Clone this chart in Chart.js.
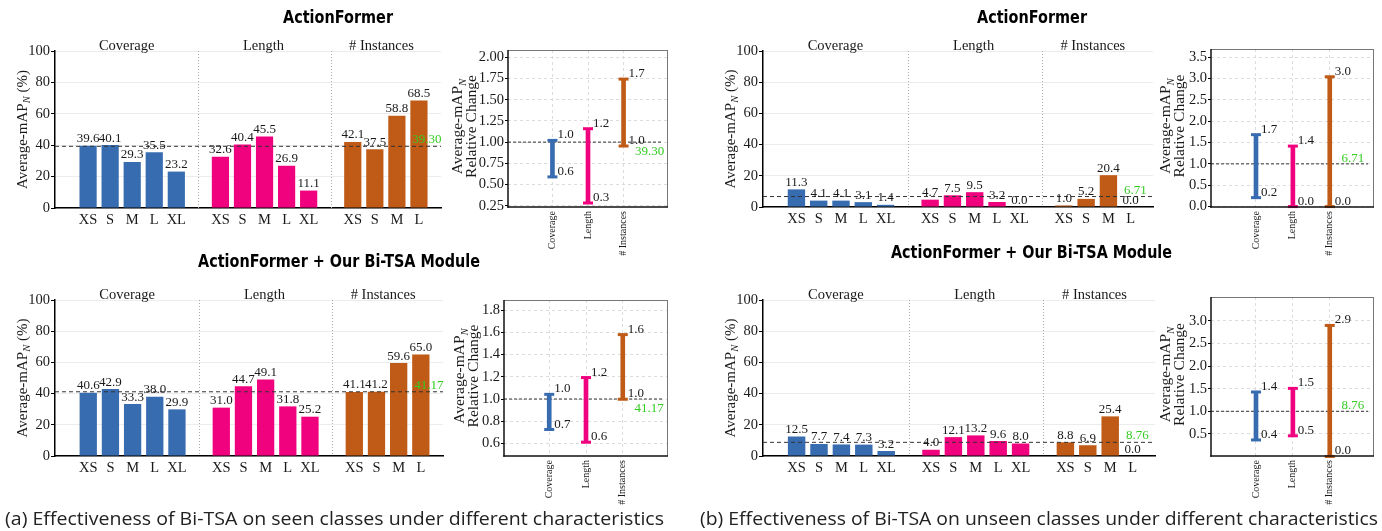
<!DOCTYPE html>
<html><head><meta charset="utf-8">
<script src="https://cdn.jsdelivr.net/npm/chart.js@4.4.1/dist/chart.umd.min.js"></script>
<style>
html,body{margin:0;padding:0;background:#fff;}
#stage{position:relative;width:1382px;height:531px;overflow:hidden;background:#fff;}
#stage canvas{position:absolute;left:0;top:0;}
</style></head><body><div id="stage"></div>
<script>
// ---------------- data ----------------
const sizesCoverage = ['XS','S','M','L','XL'];
const sizesLength = ['XS','S','M','L','XL'];
const sizesInstances = ['XS','S','M','L'];
const groupNames = ['Coverage','Length','# Instances'];
const barYTicks = [0,20,40,60,80,100];

// (a) seen classes, ActionFormer
const seenBaseCoverage = [39.6,40.1,29.3,35.5,23.2];
const seenBaseLength = [32.6,40.4,45.5,26.9,11.1];
const seenBaseInstances = [42.1,37.5,58.8,68.5];
const seenBaseAvg = 39.30;
const seenBaseRelMin = [0.590,0.282,0.954];
const seenBaseRelMax = [1.020,1.158,1.743];
const seenBaseRelTicks = [0.25,0.50,0.75,1.00,1.25,1.50,1.75,2.00];

// (a) seen classes, ActionFormer + Bi-TSA
const seenOursCoverage = [40.6,42.9,33.3,38.0,29.9];
const seenOursLength = [31.0,44.7,49.1,31.8,25.2];
const seenOursInstances = [41.1,41.2,59.6,65.0];
const seenOursAvg = 41.17;
const seenOursRelMin = [0.726,0.612,0.998];
const seenOursRelMax = [1.042,1.193,1.579];
const seenOursRelTicks = [0.6,0.8,1.0,1.2,1.4,1.6,1.8];

// (b) unseen classes, ActionFormer
const unseenBaseCoverage = [11.3,4.1,4.1,3.1,1.4];
const unseenBaseLength = [4.7,7.5,9.5,3.2,0.0];
const unseenBaseInstances = [1.0,5.2,20.4,0.0];
const unseenBaseAvg = 6.71;
const unseenBaseRelMin = [0.209,0.000,0.000];
const unseenBaseRelMax = [1.684,1.416,3.040];
const unseenBaseRelTicks = [0.0,0.5,1.0,1.5,2.0,2.5,3.0,3.5];

// (b) unseen classes, ActionFormer + Bi-TSA
const unseenOursCoverage = [12.5,7.7,7.4,7.3,3.2];
const unseenOursLength = [4.0,12.1,13.2,9.6,8.0];
const unseenOursInstances = [8.8,6.9,25.4,0.0];
const unseenOursAvg = 8.76;
const unseenOursRelMin = [0.365,0.457,0.000];
const unseenOursRelMax = [1.427,1.507,2.900];
const unseenOursRelTicks = [0.5,1.0,1.5,2.0,2.5,3.0];

const relBaseline = 1.0;

// ---------------- style ----------------
const GROUP_COLORS = ['#386cb0','#f0027f','#bf5b17'];
const SERIF = "'Liberation Serif','Times New Roman',serif";
const GREEN = '#33cc22';
const TXT = '#1a1a1a';
const W_AX = 50, PAGE_W = 1382, PAGE_H = 531;
const H_BAR = 30, H_RANGE = 62;
const GROUP_START = [0, 6, 12];
const SEPARATORS = [5, 11];
const GROUP_TITLE_POS = [1.75, 7.95, 13.3];
const AVG_LABEL_POS = 14.7;
const stage = document.getElementById('stage');

function makeCanvas(){
  const c = document.createElement('canvas');
  c.width = PAGE_W; c.height = PAGE_H;
  c.style.width = PAGE_W+'px'; c.style.height = PAGE_H+'px';
  stage.appendChild(c);
  return c;
}
function paddingFor(b, hAx){
  return {left:b.l-W_AX, top:b.t, right:PAGE_W-b.r, bottom:PAGE_H-b.b-hAx};
}
function seg(ctx,x1,y1,x2,y2){ctx.beginPath();ctx.moveTo(x1,y1);ctx.lineTo(x2,y2);ctx.stroke();}
function drawRich(ctx, cx, cy, parts, size, rotate){
  ctx.save();
  ctx.translate(cx, cy);
  if (rotate) ctx.rotate(-Math.PI/2);
  const fonts = parts.map(p => p.sub ? `italic ${size*0.7}px ${SERIF}` : `${size}px ${SERIF}`);
  let w = 0; const ws = [];
  parts.forEach((p,i)=>{ctx.font=fonts[i]; ws[i]=ctx.measureText(p.t).width; w+=ws[i];});
  let x = -w/2;
  ctx.fillStyle = TXT; ctx.textAlign='left'; ctx.textBaseline='middle';
  parts.forEach((p,i)=>{ctx.font=fonts[i]; ctx.fillText(p.t, x, p.sub ? size*0.3 : 0); x+=ws[i];});
  ctx.restore();
}

function barChart(cfg){
  const canvas = makeCanvas();
  const sizeLists = [sizesCoverage, sizesLength, sizesInstances];
  const tickPos = [], tickLab = {};
  sizeLists.forEach((list,g)=>list.forEach((lab,i)=>{const p=GROUP_START[g]+i; tickPos.push(p); tickLab[p]=lab;}));
  const datasets = cfg.values.map((vals,g)=>({
    type:'bar',
    data: vals.map((v,i)=>({x:GROUP_START[g]+i, y:v})),
    backgroundColor: GROUP_COLORS[g],
    borderWidth: 0,
    grouped: false,
    categoryPercentage: 1,
    barPercentage: 0.78
  }));
  const b = cfg.box;
  new Chart(canvas, {
    type:'bar',
    data:{datasets},
    options:{
      responsive:false, animation:false, events:[],
      layout:{padding:paddingFor(b, H_BAR)},
      plugins:{legend:{display:false}, tooltip:{enabled:false}},
      scales:{
        x:{type:'linear', min:-1.5, max:16, offset:false,
          afterBuildTicks:s=>{s.ticks=tickPos.map(v=>({value:v}));},
          afterFit:s=>{s.height=H_BAR;},
          grid:{display:false,drawTicks:false,offset:false},
          border:{display:true,color:'#000',width:1.5},
          ticks:{autoSkip:false,maxRotation:0,minRotation:0,padding:3,color:TXT,font:{family:SERIF,size:14.5},callback:v=>tickLab[v] ?? ''}},
        y:{type:'linear', min:0, max:100,
          afterBuildTicks:s=>{s.ticks=barYTicks.map(v=>({value:v}));},
          afterFit:s=>{s.width=W_AX;},
          grid:{color:'#ececec',lineWidth:1,drawTicks:true,tickLength:4,tickColor:'#000'},
          border:{display:true,color:'#000',width:1.5},
          ticks:{padding:1,color:TXT,font:{family:SERIF,size:14.5},callback:v=>String(v)}}
      }
    },
    plugins:[{id:'barDeco', afterDatasetsDraw(chart){
      const {ctx, chartArea:ca, scales:{x,y}} = chart;
      ctx.save();
      ctx.strokeStyle='#aaaaaa'; ctx.lineWidth=1; ctx.setLineDash([1,2]);
      SEPARATORS.forEach(v=>{const px=Math.round(x.getPixelForValue(v))+0.5; seg(ctx,px,ca.top,px,ca.bottom);});
      const ay = y.getPixelForValue(cfg.avg);
      ctx.setLineDash([4,3]); ctx.strokeStyle='#333'; ctx.lineWidth=1;
      seg(ctx, ca.left, ay, ca.right, ay);
      ctx.setLineDash([]);
      ctx.font=`13px ${SERIF}`; ctx.fillStyle=TXT; ctx.textAlign='center'; ctx.textBaseline='alphabetic';
      chart.data.datasets.forEach(ds=>ds.data.forEach(pt=>{
        ctx.fillText(pt.y.toFixed(1), x.getPixelForValue(pt.x), y.getPixelForValue(pt.y)-3.5);
      }));
      ctx.font=`14.5px ${SERIF}`;
      groupNames.forEach((n,g)=>ctx.fillText(n, x.getPixelForValue(GROUP_TITLE_POS[g]), ca.top-1.5));
      ctx.fillStyle=GREEN; ctx.textAlign='left'; ctx.font=`13px ${SERIF}`;
      ctx.fillText(cfg.avg.toFixed(2), x.getPixelForValue(AVG_LABEL_POS), ay-3);
      ctx.restore();
      drawRich(ctx, ca.left-32, (ca.top+ca.bottom)/2, [{t:'Average-mAP'},{t:'N',sub:true},{t:' (%)'}], 15, true);
    }}]
  });
}

function rangeChart(cfg){
  const canvas = makeCanvas();
  const idx = groupNames.map((_,i)=>i);
  const b = cfg.box;
  const capStyle = {type:'line', showLine:false, pointStyle:'line', pointRadius:5, pointBorderWidth:3, pointBorderColor:GROUP_COLORS, pointBackgroundColor:GROUP_COLORS, clip:false};
  new Chart(canvas, {
    type:'bar',
    data:{datasets:[
      {type:'bar', data: idx.map(i=>({x:i, y:[cfg.min[i], cfg.max[i]]})), backgroundColor:GROUP_COLORS, borderWidth:0, barThickness:4, grouped:false},
      Object.assign({data: idx.map(i=>({x:i, y:cfg.max[i]}))}, capStyle),
      Object.assign({data: idx.map(i=>({x:i, y:cfg.min[i]}))}, capStyle)
    ]},
    options:{
      responsive:false, animation:false, events:[],
      layout:{padding:paddingFor(b, H_RANGE)},
      plugins:{legend:{display:false}, tooltip:{enabled:false}},
      scales:{
        x:{type:'linear', min:cfg.xMin, max:cfg.xMax, offset:false,
          afterBuildTicks:s=>{s.ticks=idx.map(v=>({value:v}));},
          afterFit:s=>{s.height=H_RANGE;},
          grid:{color:'#dcdcdc',drawTicks:false,offset:false},
          border:{display:false,dash:[3,3]},
          ticks:{autoSkip:false,minRotation:90,maxRotation:90,padding:4,color:TXT,font:{family:SERIF,size:10},callback:v=>groupNames[v] ?? ''}},
        y:{type:'linear', min:cfg.yMin, max:cfg.yMax,
          afterBuildTicks:s=>{s.ticks=cfg.ticks.map(v=>({value:v}));},
          afterFit:s=>{s.width=W_AX;},
          grid:{color:'#dcdcdc',drawTicks:true,tickLength:3,tickColor:'#000'},
          border:{display:false,dash:[3,3]},
          ticks:{padding:1,color:TXT,font:{family:SERIF,size:14.5},callback:v=>v.toFixed(cfg.dec)}}
      }
    },
    plugins:[{id:'rangeDeco',
      beforeDatasetsDraw(chart){
        const {ctx, chartArea:ca, scales:{y}} = chart;
        const ly = y.getPixelForValue(relBaseline);
        ctx.save(); ctx.setLineDash([3,2]); ctx.strokeStyle='#333'; ctx.lineWidth=1;
        seg(ctx, ca.left, ly, ca.right-6, ly); ctx.restore();
      },
      afterDraw(chart){
        const {ctx, chartArea:ca, scales:{x,y}} = chart;
        ctx.save();
        ctx.strokeStyle='#777'; ctx.lineWidth=1;
        seg(ctx, ca.left, ca.top+0.5, ca.right, ca.top+0.5);
        seg(ctx, ca.right-0.5, ca.top, ca.right-0.5, ca.bottom);
        ctx.strokeStyle='#111'; ctx.lineWidth=1.5;
        seg(ctx, ca.left, ca.top, ca.left, ca.bottom+0.75);
        seg(ctx, ca.left-0.75, ca.bottom, ca.right, ca.bottom);
        ctx.font=`13px ${SERIF}`; ctx.fillStyle=TXT; ctx.textAlign='left'; ctx.textBaseline='alphabetic';
        idx.forEach(i=>{
          const px = x.getPixelForValue(i)+5;
          ctx.fillText(cfg.max[i].toFixed(1), px, y.getPixelForValue(cfg.max[i])-2);
          ctx.fillText(cfg.min[i].toFixed(1), px, y.getPixelForValue(cfg.min[i])-2);
        });
        const ly = y.getPixelForValue(relBaseline);
        ctx.fillStyle=GREEN;
        if (cfg.avgBelow){ ctx.textBaseline='top'; ctx.fillText(cfg.avg.toFixed(2), x.getPixelForValue(2.32), ly+3); }
        else { ctx.textBaseline='alphabetic'; ctx.fillText(cfg.avg.toFixed(2), x.getPixelForValue(2.32), ly-2); }
        ctx.restore();
        const cy = (ca.top+ca.bottom)/2 - 2;
        drawRich(ctx, cfg.titleX[0], cy, [{t:'Average-mAP'},{t:'N',sub:true}], 15.5, true);
        drawRich(ctx, cfg.titleX[1], cy, [{t:'Relative Change'}], 15.5, true);
      }}]
  });
}

// ---------------- charts ----------------
barChart({box:{l:55,r:441,t:51,b:208}, values:[seenBaseCoverage,seenBaseLength,seenBaseInstances], avg:seenBaseAvg});
barChart({box:{l:55,r:443,t:300,b:456}, values:[seenOursCoverage,seenOursLength,seenOursInstances], avg:seenOursAvg});
barChart({box:{l:763,r:1153,t:51,b:207}, values:[unseenBaseCoverage,unseenBaseLength,unseenBaseInstances], avg:unseenBaseAvg});
barChart({box:{l:763,r:1155,t:300,b:456}, values:[unseenOursCoverage,unseenOursLength,unseenOursInstances], avg:unseenOursAvg});

rangeChart({box:{l:508,r:668,t:50,b:207}, min:seenBaseRelMin, max:seenBaseRelMax, avg:seenBaseAvg, ticks:seenBaseRelTicks, dec:2, yMin:0.235, yMax:2.086, xMin:-1.25, xMax:3.25, avgBelow:true, titleX:[458,472]});
rangeChart({box:{l:504,r:668,t:300,b:456}, min:seenOursRelMin, max:seenOursRelMax, avg:seenOursAvg, ticks:seenOursRelTicks, dec:1, yMin:0.488, yMax:1.89, xMin:-1.23, xMax:3.23, avgBelow:true, titleX:[460,474]});
rangeChart({box:{l:1211,r:1376,t:49,b:207}, min:unseenBaseRelMin, max:unseenBaseRelMax, avg:unseenBaseAvg, ticks:unseenBaseRelTicks, dec:1, yMin:-0.01, yMax:3.69, xMin:-1.22, xMax:3.2, avgBelow:false, titleX:[1166,1180]});
rangeChart({box:{l:1211,r:1376,t:297,b:456}, min:unseenOursRelMin, max:unseenOursRelMax, avg:unseenOursAvg, ticks:unseenOursRelTicks, dec:1, yMin:0.01, yMax:3.53, xMin:-1.22, xMax:3.2, avgBelow:false, titleX:[1166,1180]});

// ---------------- titles & captions ----------------
function placeText(txt, left, width, cy, size, family, weight, color){
  const d = document.createElement('div');
  d.textContent = txt;
  d.style.cssText = `position:absolute;left:${left}px;top:${cy-size*0.62}px;font-family:${family};font-weight:${weight};font-size:${size}px;line-height:${size*1.2}px;white-space:nowrap;color:${color};transform-origin:0 0;`;
  stage.appendChild(d);
  const w = d.getBoundingClientRect().width;
  d.style.transform = `scaleX(${width/w})`;
}
const TITLE_FONT = "'DejaVu Sans','Noto Sans',sans-serif";
const CAP_FONT = "'Open Sans','Noto Sans',sans-serif";
placeText('ActionFormer', 283, 110, 18, 17, TITLE_FONT, 'bold', '#000');
placeText('ActionFormer + Our Bi-TSA Module', 198, 282, 262, 17, TITLE_FONT, 'bold', '#000');
placeText('ActionFormer', 977, 110, 18, 17, TITLE_FONT, 'bold', '#000');
placeText('ActionFormer + Our Bi-TSA Module', 891, 281, 253, 17, TITLE_FONT, 'bold', '#000');
placeText('(a) Effectiveness of Bi-TSA on seen classes under different characteristics', 5, 659, 519, 19, CAP_FONT, '400', '#222');
placeText('(b) Effectiveness of Bi-TSA on unseen classes under different characteristics', 700, 678, 519, 19, CAP_FONT, '400', '#222');
</script></body></html>
